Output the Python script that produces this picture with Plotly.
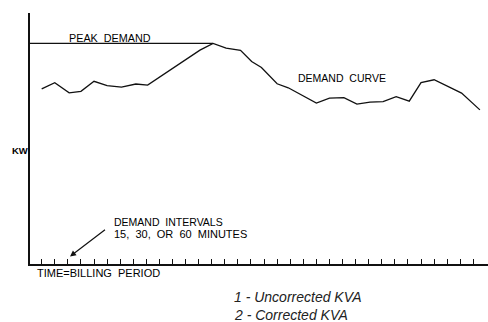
import plotly.graph_objects as go

# ---- data ----
time = [0, 1, 2.1, 3, 4, 5, 6.1, 7.2, 8.1, 12.1, 13.1, 14.1, 15.2, 16.05, 16.8,
        18.0, 18.85, 20.25, 21.0, 22.0, 23.1, 24.1, 25.1, 26.1, 27.1, 28.1,
        29.0, 30.0, 31.1, 32.1, 33.5]
kw = [69.8, 72.2, 68.2, 68.8, 72.8, 71.1, 70.5, 71.7, 71.3, 85.2, 87.9, 86.0,
      85.1, 80.7, 78.3, 71.8, 70.2, 66.1, 64.1, 66.1, 66.3, 63.7, 64.5, 64.7,
      66.7, 64.9, 72.3, 73.4, 70.7, 68.1, 61.4]
peak_kw = 87.9
peak_time = 13.1
interval_ticks = list(range(34))

# ---- layout ----
W, H = 488, 322
ML, MR, MT, MB = 30, 0, 13, 58
X_RANGE = [-0.894, 34.12]
Y_RANGE = [0, 100]
PW, PH = W - ML - MR, H - MT - MB


def px(x):
    return (x - ML) / PW


def py(y):
    return (H - MB - y) / PH


FONT = "Liberation Sans, Arial, sans-serif"

fig = go.Figure()
fig.add_trace(go.Scatter(x=time, y=kw, mode="lines",
                         line=dict(color="#111", width=1.3),
                         hoverinfo="skip", showlegend=False, cliponaxis=False))
fig.add_trace(go.Scatter(x=[X_RANGE[0], peak_time], y=[peak_kw, peak_kw], mode="lines",
                         line=dict(color="#111", width=1.3),
                         hoverinfo="skip", showlegend=False))

ann = []


def label(text, x, y, size, italic=False, color="#000"):
    ann.append(dict(text=("<i>%s</i>" % text) if italic else text,
                    xref="paper", yref="paper", x=px(x), y=py(y),
                    xanchor="left", yanchor="middle", showarrow=False,
                    font=dict(family=FONT, size=size, color=color)))


SP = "&nbsp;&nbsp;"
label("PEAK" + SP + "DEMAND", 67, 37.5, 10.8)
label("DEMAND" + SP + "CURVE", 296, 78, 10.5)
label("<b>KW</b>", 10, 150, 9.5)
label("DEMAND" + SP + "INTERVALS", 112, 221.5, 10.5)
label("15," + SP + "30," + SP + "OR" + SP + "60" + SP + "MINUTES", 112, 233.5, 11)
label("TIME=BILLING" + SP + "PERIOD", 35, 272.5, 11)
label("1 - Uncorrected KVA", 232, 297, 14, italic=True, color="#222")
label("2 - Corrected KVA", 232, 315, 14, italic=True, color="#222")

ann.append(dict(text="", xref="paper", yref="paper", x=px(70), y=py(256.5),
                showarrow=True, ax=36.5, ay=-28, arrowhead=2, arrowsize=1,
                arrowwidth=1.2, arrowcolor="#111"))

fig.update_layout(
    width=W, height=H, margin=dict(l=ML, r=MR, t=MT, b=MB),
    paper_bgcolor="white", plot_bgcolor="white",
    annotations=ann,
    xaxis=dict(range=X_RANGE, showgrid=False, zeroline=False, showline=True,
               linecolor="#111", linewidth=2, tickmode="array",
               tickvals=interval_ticks, ticks="inside", ticklen=5, tickwidth=1,
               tickcolor="#111", showticklabels=False, fixedrange=True),
    yaxis=dict(range=Y_RANGE, showgrid=False, zeroline=False, showline=True,
               linecolor="#111", linewidth=2, ticks="", showticklabels=False,
               fixedrange=True),
)
fig.write_html("out.html", config={"displayModeBar": False},
               post_script="document.body.style.margin='0';document.body.style.overflow='hidden';")
